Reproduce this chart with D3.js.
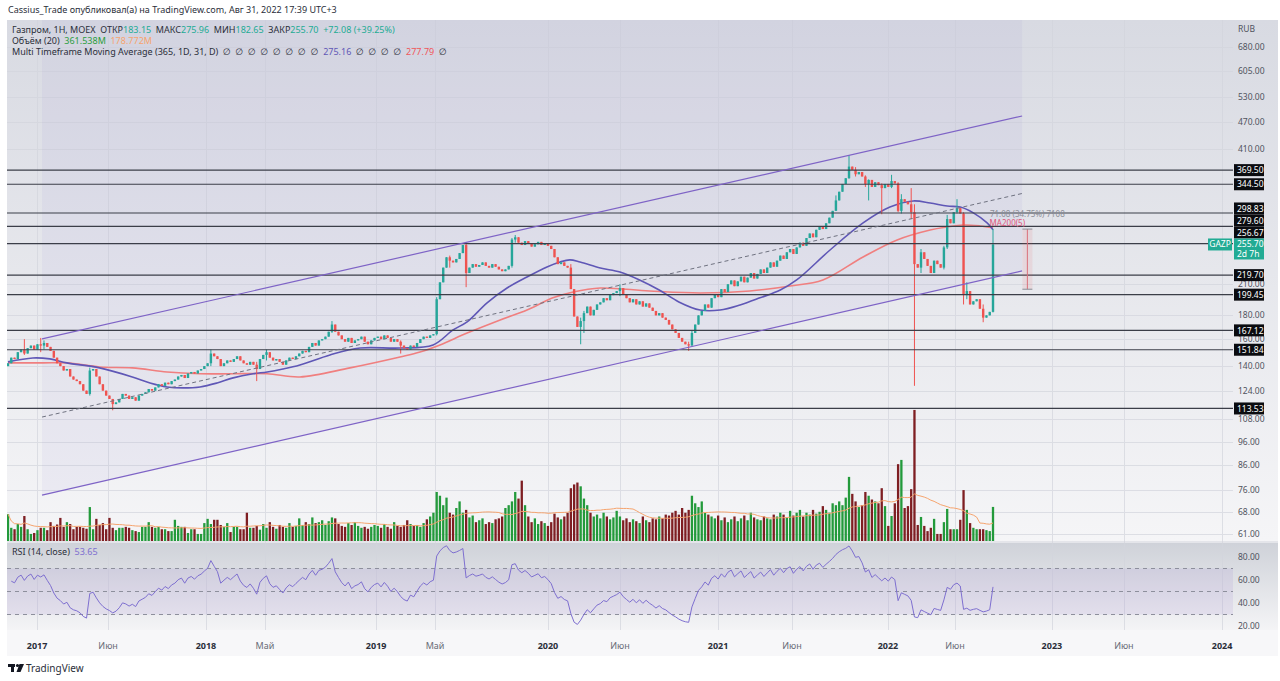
<!DOCTYPE html>
<html>
<head>
<meta charset="utf-8">
<script src="https://cdn.jsdelivr.net/npm/d3@7"></script>
<style>
  body { margin: 0; background: #fff; }
  svg { display: block; font-family: "Noto Sans", "DejaVu Sans", sans-serif; }
</style>
</head>
<body>
<div id="chart"></div>
<script>
// weekly closes (bar 0 = first bar on the left)
const closes = [
  142, 146, 145, 150, 152, 149, 153, 155, 152, 156,
  155, 157, 154, 151, 146, 142, 140, 137, 138, 133,
  131, 130, 128, 124, 122, 137, 138, 133, 128, 124,
  121, 119, 116, 117, 119, 122, 121, 119, 120, 118,
  121, 122, 123, 125, 124, 126, 128, 127, 129, 128,
  130, 131, 133, 134, 132, 135, 136, 135, 137, 138,
  140, 142, 149, 147, 145, 140, 142, 144, 143, 145,
  147, 144, 142, 141, 143, 141, 138, 145, 148, 150,
  146, 144, 145, 143, 141, 144, 146, 145, 147, 149,
  151, 150, 154, 157, 155, 159, 160, 162, 166, 172,
  166, 163, 160, 158, 161, 157, 159, 160, 162, 158,
  156, 159, 161, 162, 160, 163, 161, 158, 160, 158,
  155, 153, 152, 155, 154, 157, 160, 162, 161, 163,
  164, 195, 212, 228, 240, 236, 234, 238, 245, 255,
  222, 228, 232, 229, 231, 234, 230, 228, 232, 229,
  226, 224, 226, 230, 262, 265, 258, 255, 260, 257,
  253, 256, 259, 255, 257, 254, 250, 240, 232, 234,
  230, 228, 205, 179, 170, 175, 182, 188, 180, 185,
  190, 192, 196, 194, 199, 201, 203, 206, 200, 196,
  192, 195, 190, 193, 188, 191, 187, 184, 180, 182,
  178, 176, 172, 168, 165, 161, 158, 156, 155, 165,
  172, 180, 184, 190, 187, 196, 200, 197, 205, 202,
  210, 214, 208, 213, 218, 212, 217, 222, 216, 221,
  226, 222, 228, 234, 229, 236, 242, 238, 246, 250,
  244, 252, 258, 254, 264, 270, 265, 275, 280, 276,
  284, 292, 302, 318, 332, 345, 355, 376, 370, 362,
  366, 358, 345, 352, 340, 348, 343, 338, 345, 340,
  350, 346, 302, 320, 316, 312, 300, 232, 228, 246,
  238, 230, 222, 236, 232, 228, 252, 290, 284, 300,
  306, 298, 199, 203, 190, 193, 195, 186, 178, 180,
  183.15, 255.70
];
const firstOpen = 140;

// bars with visible wicks
const wickBars = [5, 10, 11, 25, 32, 62, 76, 79, 99, 120, 131, 135, 140, 154, 155, 172, 175, 176, 187, 208, 209, 253, 257, 259, 262, 263, 267, 270, 272, 273, 276, 277, 279, 286, 287, 290, 292, 293, 298, 301];
const wickHigh = [160, 161, 159, 139, 119, 152, 143, 152, 175, 159, 197, 242, 258, 264, 268, 232, 178, 184, 210, 158, 167, 326, 398, 375, 360, 353, 346, 361, 348, 328, 338, 312, 250, 254, 296, 320, 300, 212, 190, 275.96];
const wickLow  = [148, 150, 152, 121, 112.5, 140, 130, 144, 165, 149, 163, 228, 207, 228, 258, 226, 156, 165, 198, 151, 155, 308, 354, 358, 340, 318, 297, 338, 300, 298, 290, 127, 222, 226, 250, 298, 190, 195, 174, 182.65];

// weekly volume, millions
const volumes = [
  285, 140, 125, 180, 150, 265, 125, 75, 85, 115,
  140, 140, 115, 200, 160, 175, 245, 150, 200, 180,
  125, 150, 150, 140, 130, 360, 125, 235, 170, 190,
  125, 245, 140, 115, 140, 140, 150, 140, 115, 105,
  95, 150, 150, 200, 150, 140, 150, 125, 125, 105,
  105, 225, 160, 150, 150, 85, 125, 125, 75, 75,
  190, 235, 180, 225, 225, 170, 150, 190, 95, 150,
  150, 125, 125, 300, 140, 140, 160, 120, 180, 140,
  200, 150, 130, 170, 150, 140, 190, 150, 160, 240,
  170, 200, 180, 250, 190, 200, 220, 170, 210, 250,
  240, 180, 160, 150, 190, 170, 200, 160, 140, 150,
  130, 150, 170, 160, 140, 180, 150, 130, 200, 160,
  150, 170, 220, 180, 160, 170, 150, 190, 230, 260,
  300, 520, 480, 380, 460, 300, 280, 350, 420, 300,
  330, 250, 270, 200, 220, 240, 180, 200, 190, 230,
  240, 260, 350, 380, 420, 520, 450, 640, 380, 260,
  200, 240, 180, 210, 190, 160, 200, 290, 250, 230,
  260, 300, 560, 600, 620, 580, 450, 380, 300, 260,
  280, 240, 300, 260, 230, 250, 320, 260, 220, 240,
  200, 230, 210, 190, 260, 220, 200, 240, 230, 260,
  240, 280, 270, 300, 320, 280, 350, 300, 330, 480,
  400, 360, 420, 300, 280, 260, 240, 270, 220, 250,
  200, 230, 260, 210, 240, 270, 220, 300, 250, 230,
  220, 260, 240, 230, 280, 260, 300, 280, 250, 320,
  270, 300, 330, 260, 300, 280, 330, 290, 310, 370,
  330, 300, 400, 380, 420, 380, 460, 680, 500, 420,
  360, 380, 520, 480, 440, 420, 400, 560, 370, 160,
  265, 400, 815, 860, 350, 370, 550, 1390, 170, 255,
  160, 105, 140, 235, 75, 75, 200, 340, 125, 125,
  125, 225, 540, 330, 190, 140, 125, 125, 125, 115,
  105, 361.538
];

// moving averages: [bar, price]
const maFast = [[0,143],[7.6,145.8],[12.8,145.1],[18,142.3],[28,138.8],[38,132.7],[43.4,128.8],[48.6,126.3],[53.5,125.7],[58.7,126.3],[63.9,128.8],[68.8,132.1],[74.9,134.8],[79.2,136],[84,138],[89.2,140.8],[98.4,148],[107.6,153.1],[119.8,153.1],[129.9,155.5],[136,167.5],[140.3,174.3],[146.4,191.5],[152.5,206.1],[158.6,217.7],[164.7,228.8],[168.7,234.5],[171.7,236.9],[174.8,234.5],[181,227.6],[187,223.1],[193,214.5],[199,204.1],[205,192.4],[211.5,184.8],[217.6,184.8],[223.7,189.5],[229.8,196.3],[236,204.1],[241,214.5],[251.2,248.8],[261.3,284.5],[269.5,307.8],[276.6,317.2],[281.8,314],[287,309.3],[291,307.8],[295,299],[299.2,284.5],[301,275.16]];
const maSlow = [[0,142.3],[10.7,142.3],[18,142.3],[28,139.4],[38,138.8],[48.6,136],[58.7,134.8],[68.8,134.8],[79.2,134.8],[89.2,132.7],[104.5,138.8],[119.8,146.5],[125.9,150.1],[132,155.5],[140.3,164.9],[150.4,176],[158.6,184.8],[166.5,196.3],[172.7,202.1],[181,206.1],[196,203.1],[211.5,201.1],[226.7,203.1],[239,208.2],[249,214.5],[261.3,240.4],[271.7,261.5],[281.8,274.7],[287,278.9],[291.8,281.6],[297,280.3],[301,277.79]];

const levels = [369.50, 344.50, 298.83, 279.60, 256.67, 219.70, 199.45, 167.12, 151.84, 113.53];
const priceTicks = [680, 605, 530, 470, 410, 210, 180, 160, 140, 124, 108, 96, 86, 76, 68, 61];
const rsiTicks = [80, 60, 40, 20];
const timeTickBars = [8.9, 30.6, 60.5, 78.5, 112.5, 130.5, 165, 187, 217, 239.6, 268.9, 289.4, 319, 341, 371];
const timeTickLabels = ["2017", "Июн", "2018", "Май", "2019", "Май", "2020", "Июн", "2021", "Июн", "2022", "Июн", "2023", "Июн", "2024"];

// drawings: parallel channel and price range
const channelUpper = [[10.4, 160.2], [309.9, 483]];
const channelLower = [[10.4, 73.9], [309.9, 224.3]];
const rangeBar = 311.5, rangeFrom = 204.88, rangeTo = 275.96;

const W = 1280, H = 681;
const left = 7, plotRight = 1233, right = 1278;
const mainTop = 20, mainBottom = 541, rsiTop = 543, rsiBottom = 630, axisBottom = 656;

const svg = d3.select("#chart").append("svg").attr("width", W).attr("height", H);
const defs = svg.append("defs");

function vGrad(id, c1, c2) {
  const g = defs.append("linearGradient").attr("id", id).attr("x1", 0).attr("x2", 0).attr("y1", 0).attr("y2", 1);
  g.append("stop").attr("offset", "0%").attr("stop-color", c1);
  g.append("stop").attr("offset", "100%").attr("stop-color", c2);
}
vGrad("bgMain", "#d8dae2", "#f5f5f7");
vGrad("bgRsi", "#cfd2d9", "#f4f4f6");

defs.append("clipPath").attr("id", "clipMain").append("rect")
  .attr("x", left).attr("y", mainTop).attr("width", plotRight - left).attr("height", mainBottom - mainTop);
defs.append("clipPath").attr("id", "clipRsi").append("rect")
  .attr("x", left).attr("y", rsiTop).attr("width", plotRight - left).attr("height", rsiBottom - rsiTop);

const x = d3.scaleLinear().domain([0, 301]).range([8, 993]);
const y = d3.scaleLog().domain([58.9, 777]).range([mainBottom, mainTop]);
const yVol = d3.scaleLinear().domain([0, 1400]).range([mainBottom, 409]);
const yRsi = d3.scaleLinear().domain([80, 20]).range([557, 626]);

// candles
const bars = closes.map((c, i) => {
  const o = i === 0 ? firstOpen : closes[i - 1];
  const k = wickBars.indexOf(i);
  return {
    i, o, c,
    h: k >= 0 ? Math.max(wickHigh[k], o, c) : Math.max(o, c),
    l: k >= 0 ? Math.min(wickLow[k], o, c) : Math.min(o, c),
    v: volumes[i]
  };
});

// backgrounds
svg.append("rect").attr("x", left).attr("y", mainTop).attr("width", right - left).attr("height", mainBottom - mainTop).attr("fill", "url(#bgMain)");
svg.append("rect").attr("x", left).attr("y", mainBottom).attr("width", right - left).attr("height", rsiTop - mainBottom).attr("fill", "#e4e5ea");
svg.append("rect").attr("x", left).attr("y", rsiTop).attr("width", right - left).attr("height", rsiBottom - rsiTop).attr("fill", "url(#bgRsi)");
svg.append("rect").attr("x", left).attr("y", rsiBottom).attr("width", right - left).attr("height", axisBottom - rsiBottom).attr("fill", "#f7f7f9");

// grid
const grid = svg.append("g").attr("stroke", "#d3d5dd").attr("stroke-width", 1).attr("opacity", 0.7);
grid.selectAll(".vg").data(timeTickBars).enter().append("line")
  .attr("x1", d => Math.round(x(d)) + 0.5).attr("x2", d => Math.round(x(d)) + 0.5)
  .attr("y1", mainTop).attr("y2", rsiBottom);
grid.selectAll(".hg").data(priceTicks).enter().append("line")
  .attr("x1", left).attr("x2", plotRight)
  .attr("y1", d => Math.round(y(d)) + 0.5).attr("y2", d => Math.round(y(d)) + 0.5);

const main = svg.append("g").attr("clip-path", "url(#clipMain)");

// channel area, shaded from the lower line up to the top of the pane
const cp = p => [x(p[0]), y(p[1])];
main.append("path")
  .attr("d", d3.line()([[x(channelLower[0][0]), mainTop], [x(channelLower[1][0]), mainTop], cp(channelLower[1]), cp(channelLower[0])]) + "Z")
  .attr("fill", "rgba(126, 96, 200, 0.06)");

// volume
main.append("g").selectAll("rect").data(bars).enter().append("rect")
  .attr("x", d => x(d.i) - 1.15).attr("width", 2.3)
  .attr("y", d => yVol(d.v)).attr("height", d => mainBottom - yVol(d.v))
  .attr("fill", d => d.c >= d.o ? "#239a3b" : "#7e1e22");

const volMa = volumes.map((v, i) => [i, d3.mean(volumes.slice(Math.max(0, i - 19), i + 1))]);
main.append("path")
  .attr("d", d3.line().x(d => x(d[0])).y(d => yVol(d[1]))(volMa))
  .attr("fill", "none").attr("stroke", "#f6a46e").attr("stroke-width", 1);

// moving averages
const maLine = d3.line().x(d => x(d[0])).y(d => y(d[1])).curve(d3.curveCatmullRom.alpha(0.5));
main.append("path").attr("d", maLine(maSlow)).attr("fill", "none").attr("stroke", "#f07f7f").attr("stroke-width", 1.6);
main.append("path").attr("d", maLine(maFast)).attr("fill", "none").attr("stroke", "#5f57b6").attr("stroke-width", 1.6);

// candles
const cg = main.append("g");
cg.selectAll("line").data(bars).enter().append("line")
  .attr("x1", d => x(d.i)).attr("x2", d => x(d.i))
  .attr("y1", d => y(d.h)).attr("y2", d => y(d.l))
  .attr("stroke", d => d.c >= d.o ? "#26a69a" : "#ef5350").attr("stroke-width", 1);
cg.selectAll("rect").data(bars).enter().append("rect")
  .attr("x", d => x(d.i) - 1.2).attr("width", 2.4)
  .attr("y", d => y(Math.max(d.o, d.c)))
  .attr("height", d => Math.max(1, y(Math.min(d.o, d.c)) - y(Math.max(d.o, d.c))))
  .attr("fill", d => d.c >= d.o ? "#26a69a" : "#ef5350");

// horizontal levels
main.selectAll(".lvl").data(levels).enter().append("line")
  .attr("x1", left).attr("x2", plotRight)
  .attr("y1", d => y(d)).attr("y2", d => y(d))
  .attr("stroke", "#3b3e48").attr("stroke-width", 1.2);

// channel lines
main.append("line")
  .attr("x1", x(channelUpper[0][0])).attr("y1", y(channelUpper[0][1]))
  .attr("x2", x(channelUpper[1][0])).attr("y2", y(channelUpper[1][1]))
  .attr("stroke", "#7e63c6").attr("stroke-width", 1.2);
main.append("line")
  .attr("x1", x(channelLower[0][0])).attr("y1", y(channelLower[0][1]))
  .attr("x2", x(channelLower[1][0])).attr("y2", y(channelLower[1][1]))
  .attr("stroke", "#7e63c6").attr("stroke-width", 1.2);
main.append("line")
  .attr("x1", x(channelUpper[0][0])).attr("y1", (y(channelUpper[0][1]) + y(channelLower[0][1])) / 2)
  .attr("x2", x(channelUpper[1][0])).attr("y2", (y(channelUpper[1][1]) + y(channelLower[1][1])) / 2)
  .attr("stroke", "#6f7280").attr("stroke-width", 1).attr("stroke-dasharray", "4,3");

// price range drawing
const rx = x(rangeBar);
main.append("rect").attr("x", rx - 5).attr("width", 10)
  .attr("y", y(rangeTo)).attr("height", y(rangeFrom) - y(rangeTo))
  .attr("fill", "rgba(239, 83, 80, 0.10)");
main.append("line").attr("x1", rx).attr("x2", rx).attr("y1", y(rangeTo)).attr("y2", y(rangeFrom))
  .attr("stroke", "#d9707a").attr("stroke-width", 1);
[rangeTo, rangeFrom].forEach(v => {
  main.append("line").attr("x1", rx - 5).attr("x2", rx + 5).attr("y1", y(v)).attr("y2", y(v))
    .attr("stroke", "#8a8d96").attr("stroke-width", 1);
});
svg.append("text").attr("x", rx).attr("y", y(rangeTo) - 12).attr("text-anchor", "middle")
  .attr("font-size", 8).attr("fill", "#8a8d96").text("71.08 (34.75%) 7108");
svg.append("text").attr("x", rx - 20).attr("y", y(rangeTo) - 3).attr("text-anchor", "middle")
  .attr("font-size", 8).attr("fill", "#e0567a").text("MA200(5)");

// RSI
const rsiVals = [];
let ag = 0, al = 0;
for (let k = 1; k <= 14; k++) {
  const d = closes[k] - closes[k - 1];
  if (d > 0) ag += d; else al -= d;
}
ag /= 14; al /= 14;
for (let i = 1; i < closes.length; i++) {
  const d = closes[i] - closes[i - 1];
  ag = (ag * 13 + Math.max(d, 0)) / 14;
  al = (al * 13 + Math.max(-d, 0)) / 14;
  rsiVals.push([i, al === 0 ? 100 : 100 - 100 / (1 + ag / al)]);
}
const rsiG = svg.append("g").attr("clip-path", "url(#clipRsi)");
rsiG.append("rect").attr("x", left).attr("width", plotRight - left)
  .attr("y", yRsi(70)).attr("height", yRsi(30) - yRsi(70)).attr("fill", "rgba(126, 87, 194, 0.10)");
[70, 50, 30].forEach(v => {
  rsiG.append("line").attr("x1", left).attr("x2", plotRight).attr("y1", yRsi(v)).attr("y2", yRsi(v))
    .attr("stroke", "#8d8f9c").attr("stroke-width", 1).attr("stroke-dasharray", "4,4");
});
rsiG.append("path").attr("d", d3.line().x(d => x(d[0])).y(d => yRsi(d[1]))(rsiVals))
  .attr("fill", "none").attr("stroke", "#7e6fd0").attr("stroke-width", 1);

// axes text
const axisX = 1238;
svg.append("text").attr("x", axisX).attr("y", 32).attr("font-size", 8.5).attr("fill", "#50535e").text("RUB");
svg.selectAll(".pt").data(priceTicks).enter().append("text")
  .attr("x", axisX).attr("y", d => y(d) + 3).attr("font-size", 8.5).attr("fill", "#50535e")
  .text(d => d.toFixed(2));
svg.selectAll(".rt").data(rsiTicks).enter().append("text")
  .attr("x", axisX).attr("y", d => yRsi(d) + 3).attr("font-size", 8.5).attr("fill", "#50535e")
  .text(d => d.toFixed(2));
svg.selectAll(".tt").data(timeTickBars).enter().append("text")
  .attr("x", d => x(d)).attr("y", 649).attr("text-anchor", "middle").attr("font-size", 9)
  .attr("font-weight", (d, k) => /^\d/.test(timeTickLabels[k]) ? "bold" : "normal")
  .attr("fill", (d, k) => /^\d/.test(timeTickLabels[k]) ? "#2a2e39" : "#6a6d78")
  .text((d, k) => timeTickLabels[k]);

// level labels on the price axis, stacked off the last price box
const lastPrice = closes[closes.length - 1];
const lastY = y(lastPrice);
const boxH = 12;
const above = levels.filter(v => y(v) < lastY).map(v => ({ v, cy: y(v) })).sort((a, b) => b.cy - a.cy);
const below = levels.filter(v => y(v) >= lastY).map(v => ({ v, cy: y(v) })).sort((a, b) => a.cy - b.cy);
let edge = lastY - 6;
above.forEach(b => { b.cy = Math.min(b.cy, edge - boxH / 2); edge = b.cy - boxH / 2; });
edge = lastY + 15;
below.forEach(b => { b.cy = Math.max(b.cy, edge + boxH / 2); edge = b.cy + boxH / 2; });
above.concat(below).forEach(b => {
  svg.append("rect").attr("x", 1234).attr("y", b.cy - boxH / 2).attr("width", 30).attr("height", boxH).attr("fill", "#0b0c10");
  svg.append("text").attr("x", 1237).attr("y", b.cy + 3.2).attr("font-size", 8.5).attr("fill", "#fff").text(b.v.toFixed(2));
});
svg.append("rect").attr("x", 1234).attr("y", lastY - 6).attr("width", 30).attr("height", 21).attr("fill", "#22ab94");
svg.append("text").attr("x", 1237).attr("y", lastY + 3).attr("font-size", 8.5).attr("fill", "#fff").text(lastPrice.toFixed(2));
svg.append("text").attr("x", 1237).attr("y", lastY + 12.5).attr("font-size", 8.5).attr("fill", "#fff").text("2d 7h");
svg.append("rect").attr("x", 1208).attr("y", lastY - 6).attr("width", 24).attr("height", boxH).attr("fill", "#22ab94");
svg.append("text").attr("x", 1220).attr("y", lastY + 3).attr("text-anchor", "middle").attr("font-size", 8.5).attr("fill", "#fff").text("GAZP");

// header and legends
svg.append("text").attr("x", 8).attr("y", 13).attr("font-size", 9).attr("fill", "#2a2e39")
  .text("Cassius_Trade опубликовал(а) на TradingView.com, Авг 31, 2022 17:39 UTC+3");

function legendLine(yy, parts) {
  const t = svg.append("text").attr("x", 12).attr("y", yy).attr("font-size", 9).style("white-space", "pre");
  parts.forEach(p => t.append("tspan").attr("fill", p[1]).text(p[0]));
}
const teal = "#22ab94", ink = "#2a2e39";
legendLine(33, [["Газпром, 1H, MOEX  ОТКР", ink], ["183.15", teal], ["  МАКС", ink], ["275.96", teal], ["  МИН", ink], ["182.65", teal], ["  ЗАКР", ink], ["255.70", teal], ["  +72.08 (+39.25%)", teal]]);
legendLine(44, [["Объём (20)  ", ink], ["361.538M", "#2a9d3c"], ["  178.772M", "#f6a46e"]]);
legendLine(55, [["Multi Timeframe Moving Average (365, 1D, 31, D)  ∅  ∅  ∅  ∅  ∅  ∅  ∅  ∅  ", ink], ["275.16", "#5f57b6"], ["  ∅  ∅  ∅  ∅  ", ink], ["277.79", "#f0565a"], ["  ∅", ink]]);
legendLine(555, [["RSI (14, close)  ", ink], ["53.65", "#7e6fd0"]]);

// TradingView mark
const logo = svg.append("g").attr("fill", "#131722");
logo.append("rect").attr("x", 8).attr("y", 664).attr("width", 7).attr("height", 3);
logo.append("rect").attr("x", 11).attr("y", 664).attr("width", 3).attr("height", 8);
logo.append("circle").attr("cx", 17.5).attr("cy", 665.5).attr("r", 1.6);
logo.append("path").attr("d", "M19.5,664 L24,664 L20.5,672 L16.5,672 Z");
svg.append("text").attr("x", 26).attr("y", 672).attr("font-size", 10).attr("fill", "#2a2e39").text("TradingView");
</script>
</body>
</html>
